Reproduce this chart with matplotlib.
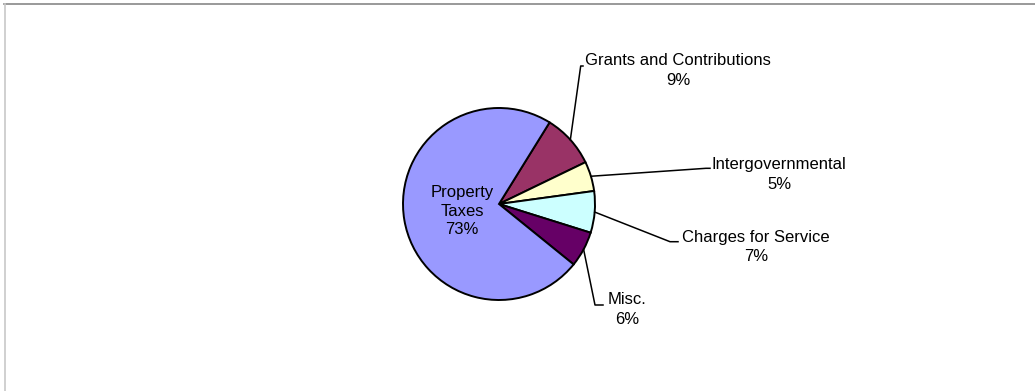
import numpy as np
import matplotlib
matplotlib.use("Agg")
import matplotlib.pyplot as plt
from matplotlib.lines import Line2D

# Revenue sources, in clockwise order starting from the top-right wedge
categories = ["Grants and Contributions", "Intergovernmental",
              "Charges for Service", "Misc.", "Property\nTaxes"]
shares = [9, 5, 7, 6, 73]
colors = ["#993366", "#FFFFCC", "#CCFFFF", "#660066", "#9999FF"]

W, H = 1035, 391
fig = plt.figure(figsize=(W / 100, H / 100), dpi=100)
ax = fig.add_axes([0, 0, 1, 1])


def py(y):
    """Convert a top-down pixel row to the axes' upward y coordinate."""
    return H - y


cx, cy, r = 499, py(204), 96
start = 58.2
wedges, _ = ax.pie(shares, colors=colors, startangle=start, counterclock=False,
                   center=(cx, cy), radius=r, frame=True,
                   wedgeprops=dict(edgecolor="black", linewidth=1.4))
ax.set_xlim(0, W)
ax.set_ylim(0, H)
ax.set_aspect("equal")
ax.axis("off")

plt.rcParams["font.family"] = ["Liberation Sans", "DejaVu Sans"]
fs = 12
ls = 1.35

# Label placement: (text centre, leader elbow, leader end) in pixel rows
layout = {
    0: ((678, 70.5), (580.7, 66), (583, 66)),
    1: ((779, 174.5), (706, 168.3), (710, 168.3)),
    2: ((756, 247), (670, 241.7), (678, 241.7)),
    3: ((627, 309.5), (595, 305), (603, 305)),
}

for i, (lab, val) in enumerate(zip(categories, shares)):
    w = wedges[i]
    mid = np.deg2rad((w.theta1 + w.theta2) / 2)
    text = f"{lab}\n{val}%"
    if i in layout:
        (tx, ty), elbow, end = layout[i]
        sx = cx + r * np.cos(mid)
        sy = cy + r * np.sin(mid)
        ax.add_line(Line2D([sx, elbow[0], end[0]],
                           [sy, py(elbow[1]), py(end[1])],
                           color="black", linewidth=1.1))
        ax.text(tx, py(ty), text, ha="center", va="center", fontsize=fs,
                linespacing=ls, color="black")
    else:
        ax.text(462, py(211), text, ha="center", va="center", fontsize=fs,
                linespacing=ls - 0.05, color="black")

# Chart area frame (top and left edges)
fig.add_artist(Line2D([4 / W, 1], [1 - 3.5 / H, 1 - 3.5 / H],
                      transform=fig.transFigure, color="#888888", linewidth=1.2))
fig.add_artist(Line2D([4.5 / W, 4.5 / W], [0, 1 - 3.5 / H],
                      transform=fig.transFigure, color="#c8c8c8", linewidth=1.2))

fig.savefig("out.png", dpi=100)
